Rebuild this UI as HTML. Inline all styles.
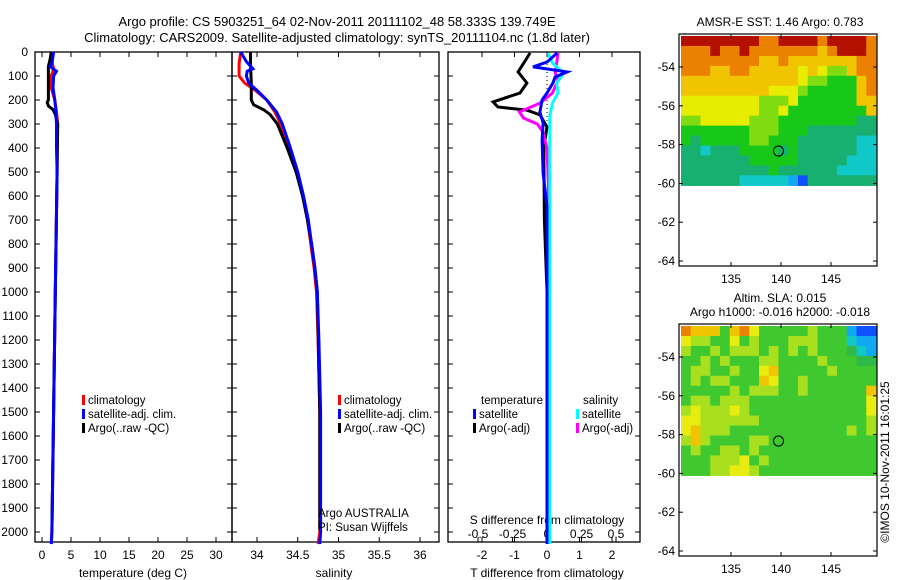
<!DOCTYPE html>
<html><head><meta charset="utf-8"><style>
body{margin:0;background:#fff;}
svg{display:block;font-family:"Liberation Sans",sans-serif;font-size:12px;}
</style></head><body>
<svg id="c" width="900" height="580" xmlns="http://www.w3.org/2000/svg">
<text x="337" y="26" text-anchor="middle" font-size="13">Argo profile: CS 5903251_64 02-Nov-2011 20111102_48 58.333S 139.749E</text>
<text x="337" y="42" text-anchor="middle" font-size="13">Climatology: CARS2009. Satellite-adjusted climatology: synTS_20111104.nc (1.8d later)</text>
<text x="780" y="26" text-anchor="middle">AMSR-E SST: 1.46 Argo: 0.783</text>
<text x="780" y="302" text-anchor="middle">Altim. SLA: 0.015</text>
<text x="780" y="316" text-anchor="middle">Argo h1000: -0.016 h2000: -0.018</text>
<text transform="translate(889,462) rotate(-90)" text-anchor="middle">©IMOS 10-Nov-2011 16:01:25</text>
<g id="g"></g>
</svg>
<script>
const NS='http://www.w3.org/2000/svg';
const depthTicks=[0,100,200,300,400,500,600,700,800,900,1000,1100,1200,1300,1400,1500,1600,1700,1800,1900,2000];
const tempTicks=[0,5,10,15,20,25,30];
const salTicks=[34,34.5,35,35.5,36];
const salTickLabels=['34','34.5','35','35.5','36'];
const dTTicks=[-2,-1,0,1,2];
const dSTicks=[-0.5,-0.25,0,0.25,0.5];
const dSTickLabels=['-0.5','-0.25','0','0.25','0.5'];
const tempClim=[[0,1.6],[50,1.8],[70,2.0],[100,1.6],[150,1.6],[200,2.2],[250,2.5],[300,2.7],[400,2.6],[500,2.6],[1000,2.3],[1500,2.0],[2000,1.7],[2050,1.6]];
const tempSat=[[0,2.0],[50,1.7],[60,1.4],[80,2.5],[100,2.0],[150,1.9],[200,2.2],[250,2.4],[300,2.5],[400,2.5],[500,2.6],[1000,2.3],[1500,2.0],[2000,1.7],[2050,1.6]];
const tempArgo=[[0,1.6],[30,1.4],[60,1.1],[200,1.1],[210,0.9],[225,1.1],[240,1.9],[260,2.3],[300,2.7],[500,2.6],[1000,2.3],[1500,2.0],[1990,1.7]];
const salClim=[[0,33.8],[50,33.78],[100,33.78],[130,33.85],[160,33.98],[200,34.12],[250,34.22],[300,34.29],[400,34.40],[500,34.49],[600,34.56],[700,34.62],[800,34.66],[900,34.70],[1000,34.73],[1200,34.75],[1500,34.77],[2000,34.77],[2050,34.75]];
const salSat=[[0,33.8],[40,33.87],[70,33.95],[80,33.88],[100,33.87],[130,33.9],[160,34.0],[200,34.12],[250,34.24],[300,34.31],[400,34.41],[500,34.5],[600,34.57],[700,34.63],[800,34.67],[900,34.71],[1000,34.74],[1200,34.76],[1500,34.78],[2000,34.78],[2050,34.77]];
const salArgo=[[0,33.92],[50,33.92],[130,33.93],[200,33.93],[220,33.96],[240,34.08],[260,34.16],[300,34.25],[400,34.37],[500,34.48],[600,34.56],[700,34.62],[800,34.67],[900,34.71],[1000,34.74],[1500,34.77],[1990,34.77]];
const dTArgo=[[4,-0.52],[83,-0.89],[129,-0.62],[171,-0.83],[208,-1.66],[229,-1.51],[242,-0.62],[262,-0.22],[312,0],[400,-0.1],[700,-0.08],[1000,0],[2000,0]];
const dTSat=[[4,0.31],[42,0],[62,-0.43],[83,0.62],[104,0.25],[129,0.18],[171,0],[200,-0.15],[250,-0.22],[296,-0.12],[367,-0.15],[504,-0.12],[646,0],[783,0],[2050,0]];
const dSSat=[[4,0.007],[46,0.04],[88,0.12],[129,0.07],[171,0.08],[213,0.04],[267,0.02],[404,0.02],[2050,0.02]];
const dSArgo=[[4,0.08],[88,0.06],[117,0.08],[171,0.04],[213,-0.05],[250,-0.2],[275,-0.17],[300,-0.07],[333,-0.03],[400,0],[550,0.01],[2000,0.01]];
const sstGrid=["99999999889999899998","88898898888888789998","88888888778777777788","88877887777767655788","77777777777765544478","77777777766654444478","66666666555644444477","66666666556444444447","55666665554444444433","44444445554443333333","43444445544433333322","33233344443433333322","33333334444433333222","33333333343333332222","33333322222103333333"];
const slaGrid=["87774786444445444100","65544645444555444211","54454555454545444321","44545444554444544433","45544544674444454444","45455444764454444444","44444545554454444447","45545554444444444446","56555654444444444446","66555555444444444445","67555444444444444545","57544445544444444444","45445545444444444444","44455564544444444444","44455665444444444444"];
const mapLatTicks=[-54,-56,-58,-60,-62,-64];
const mapLonTicks=[135,140,145];
const argoLon=139.749, argoLat=-58.333;
const palette=['#1050ff','#10a8f0','#10c8c8','#18b070','#18c818','#80dc10','#e8ec00','#f0c400','#ec8000','#b41000'];
const slaPal=['#1050ff','#10a8f0','#10c8c8','#30b848','#40c830','#a8e020','#e8ec10','#f0c400','#ec8000','#b41000'];

const g=document.getElementById('g');
function el(t,a,p){const e=document.createElementNS(NS,t);for(const k in a)e.setAttribute(k,a[k]);(p||g).appendChild(e);return e;}
function txt(x,y,s,anchor,name,fs){const e=el('text',{x:x,y:y,'text-anchor':anchor||'middle'});e.textContent=s;
if(fs)e.setAttribute('font-size',fs);

return e;}
const y0=52, yPer=0.24; const yD=d=>y0+d*yPer;
const xT=v=>42+v*5.8, xS=v=>257+(v-34)*81.5, xdT=v=>547+v*32.5, xdS=v=>547+v*138;

function panel(x1,x2,name){
 const r=el('rect',{x:x1,y:52,width:x2-x1,height:490,fill:'none',stroke:'#000','stroke-width':1.3});
 
 
}
function line(data,fx,color,w,name){
 const pts=data.map(p=>fx(p[1]).toFixed(1)+','+yD(p[0]).toFixed(1)).join(' ');
 const e=el('polyline',{points:pts,fill:'none',stroke:color,'stroke-width':w||3});
 
 
}
function xticks(ticks,fx){ticks.forEach(t=>{const x=fx(t);
 el('line',{x1:x,y1:52,x2:x,y2:57,stroke:'#000'});
 el('line',{x1:x,y1:542,x2:x,y2:537,stroke:'#000'});});}

panel(35,232,'temperature-panel');panel(232,439,'salinity-panel');panel(448,640,'difference-panel');
depthTicks.forEach(d=>{const y=yD(d);txt(28,y+4,String(d),'end','depth-tick-label');
 [[35,40],[232,227],[232,237],[439,434],[448,453],[640,635]].forEach(a=>el('line',{x1:a[0],y1:y,x2:a[1],y2:y,stroke:'#000'}));});
xticks(tempTicks,xT);tempTicks.forEach(t=>txt(xT(t),559,String(t),'middle','temp-tick-label'));
txt(133,577,'temperature (deg C)','middle','temp-axis-title');
xticks(salTicks,xS);salTicks.forEach((t,i)=>txt(xS(t),559,salTickLabels[i],'middle','sal-tick-label'));
txt(334,577,'salinity','middle','sal-axis-title');
xticks(dTTicks,xdT);dTTicks.forEach(t=>txt(xdT(t),559,String(t),'middle','dT-tick-label'));
txt(547,577,'T difference from climatology','middle','dT-axis-title');
dSTicks.forEach((t,i)=>{txt(xdS(t),538,dSTickLabels[i],'middle','dS-tick-label');el('line',{x1:xdS(t),y1:542,x2:xdS(t),y2:537,stroke:'#000'});});
txt(547,524,'S difference from climatology','middle','dS-axis-title');

line(tempClim,xT,'#f00',3,'temp-climatology-line');
line(tempArgo,xT,'#000',3,'temp-argo-line');
line(tempSat,xT,'#00f',3,'temp-satellite-line');
line(salClim,xS,'#f00',3,'sal-climatology-line');
line(salArgo,xS,'#000',3,'sal-argo-line');
line(salSat,xS,'#00f',3,'sal-satellite-line');
el('line',{x1:547,y1:52,x2:547,y2:yD(300),stroke:'#000','stroke-dasharray':'1,3'});
line(dTArgo,xdT,'#000',3,'dT-argo-line');
line(dSArgo,xdS,'#f0f',3,'dS-argo-line');
line(dSSat,xdS,'#0ff',3,'dS-satellite-line');
line(dTSat,xdT,'#00f',3,'dT-satellite-line');

function leg(x,y,color,label,name){el('rect',{x:x,y:y-9,width:3,height:10,fill:color});
 txt(x+6,y,label,'start',name,'11.5');}
[['climatology','#f00'],['satellite-adj. clim.','#00f'],['Argo(..raw -QC)','#000']].forEach((a,i)=>{
 leg(82,404+i*14,a[1],a[0],'temp-legend-entry');leg(338,404+i*14,a[1],a[0],'sal-legend-entry');});
txt(318,517,'Argo AUSTRALIA','start','argo-agency','11.5');txt(318,531,'PI: Susan Wijffels','start','argo-pi','11.5');
txt(481,404,'temperature','start','legend-temperature-header','11.5');txt(583,404,'salinity','start','legend-salinity-header','11.5');
leg(473,418,'#00f','satellite','legend-dT-satellite');leg(473,432,'#000','Argo(-adj)','legend-dT-argo');
leg(576,418,'#0ff','satellite','legend-dS-satellite');leg(576,432,'#f0f','Argo(-adj)','legend-dS-argo');

function map(top,grid,pal,name){
 const L=679,R=877,B=top+232;
 const latY=v=>top+33+(-54-v)*19.4, lonX=v=>781+(v-140)*10;
 const x0=681,x1=876,ya=top+2,yb=latY(-60.1);
 const cw=(x1-x0)/grid[0].length, ch=(yb-ya)/grid.length;
 grid.forEach((row,r)=>{for(let c=0;c<row.length;c++){
  const cell=el('rect',{x:(x0+c*cw).toFixed(2),y:(ya+r*ch).toFixed(2),width:(cw+0.6).toFixed(2),height:(ch+0.6).toFixed(2),fill:pal[+row[c]]});
  
  }});
 const f=el('rect',{x:L,y:top,width:R-L,height:B-top,fill:'none',stroke:'#000','stroke-width':1.2});
 
 
 mapLatTicks.forEach(v=>{const y=latY(v);txt(L-4,y+4,String(v),'end',name+'-lat-label');
  el('line',{x1:L,y1:y,x2:L+4,y2:y,stroke:'#000'});el('line',{x1:R,y1:y,x2:R-4,y2:y,stroke:'#000'});});
 mapLonTicks.forEach(v=>{const x=lonX(v);txt(x,B+17,String(v),'middle',name+'-lon-label');
  el('line',{x1:x,y1:B,x2:x,y2:B-4,stroke:'#000'});el('line',{x1:x,y1:top,x2:x,y2:top+4,stroke:'#000'});});
 const m=el('circle',{cx:lonX(argoLon),cy:latY(argoLat),r:5,fill:'none',stroke:'#000'});
 
 
}
map(34,sstGrid,palette,'sst-map');
map(324,slaGrid,slaPal,'sla-map');
</script>
</body></html>
